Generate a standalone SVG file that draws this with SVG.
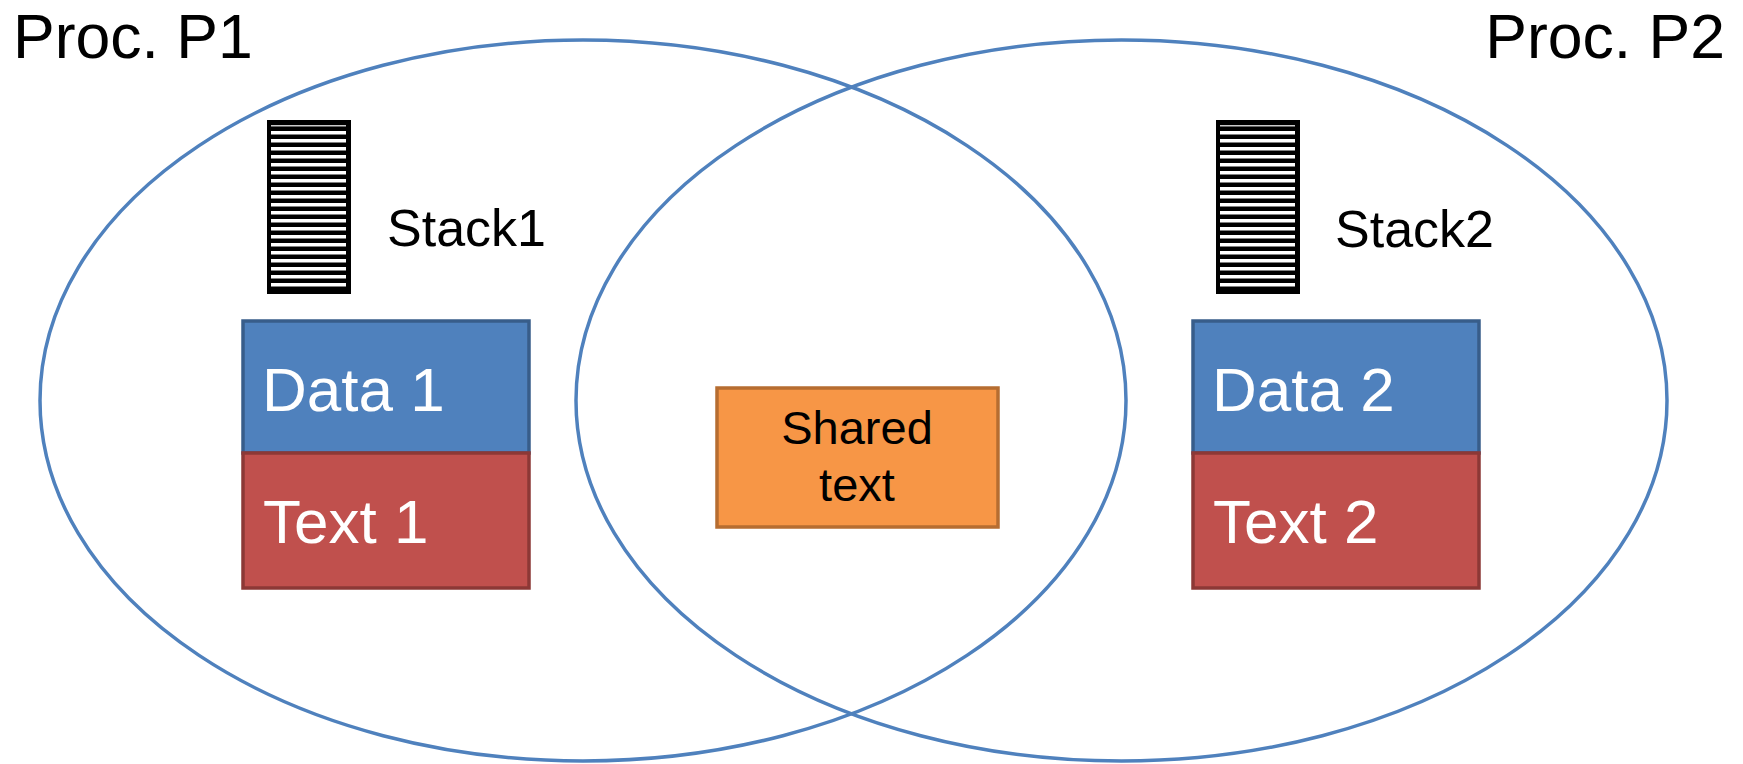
<svg xmlns="http://www.w3.org/2000/svg" xmlns:xlink="http://www.w3.org/1999/xlink" width="1743" height="764" viewBox="0 0 1743 764">
<style>
.proc{fill:none;stroke:#4F81BD;stroke-width:3.5}
.lbl{font-family:"Liberation Sans",Arial,sans-serif;fill:#000}
.big{font-size:62.5px}
.stk{font-size:52px}
.box{font-family:"Liberation Sans",Arial,sans-serif;font-size:62px;fill:#fff}
.data{fill:#4F81BD;stroke:#385D8A;stroke-width:3.5}
.text{fill:#C0504D;stroke:#8C3836;stroke-width:3.5}
.shared{fill:#F79646;stroke:#B66D31;stroke-width:3.5}
.sh{font-family:"Liberation Sans",Arial,sans-serif;font-size:47px;fill:#000}
</style>
<defs>
<g id="stackIcon">
<rect x="0" y="0" width="84" height="174" fill="#000"/>
<path d="M4 5.7H79" stroke="#ccc" stroke-width="1.5"/>
<path d="M4 12.7H79M4 20.7H79M4 28.7H79M4 36.7H79M4 44.7H79M4 52.7H79M4 60.7H79M4 68.7H79M4 76.7H79M4 84.7H79M4 92.7H79M4 100.7H79M4 108.7H79M4 116.7H79M4 124.7H79M4 132.7H79M4 140.7H79M4 148.7H79M4 156.7H79M4 164.7H79" stroke="#fff" stroke-width="3.5"/>
</g>
</defs>
<g id="connectors"></g>
<g id="procP1">
<ellipse class="proc" cx="583" cy="400.5" rx="543" ry="360.5"/>
<text class="lbl big" x="13" y="58">Proc. P1</text>
</g>
<g id="procP2">
<ellipse class="proc" cx="1121.5" cy="400.5" rx="545.5" ry="360.5"/>
<text class="lbl big" x="1725" y="58" text-anchor="end">Proc. P2</text>
</g>
<g id="stack1">
<use xlink:href="#stackIcon" x="267" y="120"/>
<text class="lbl stk" x="387" y="246">Stack1</text>
</g>
<g id="stack2">
<use xlink:href="#stackIcon" x="1216" y="120"/>
<text class="lbl stk" x="1335" y="247">Stack2</text>
</g>
<g id="data1">
<rect class="data" x="243" y="321" width="286" height="132"/>
<text class="box" x="262" y="411">Data 1</text>
</g>
<g id="text1">
<rect class="text" x="243" y="453" width="286" height="135"/>
<text class="box" x="263" y="543">Text 1</text>
</g>
<g id="data2">
<rect class="data" x="1193" y="321" width="286" height="132"/>
<text class="box" x="1212" y="411">Data 2</text>
</g>
<g id="text2">
<rect class="text" x="1193" y="453" width="286" height="135"/>
<text class="box" x="1213" y="543">Text 2</text>
</g>
<g id="shared">
<rect class="shared" x="717" y="388" width="281" height="139"/>
<text class="sh" x="857" y="444" text-anchor="middle">Shared</text>
<text class="sh" x="857" y="501" text-anchor="middle">text</text>
</g>
</svg>
